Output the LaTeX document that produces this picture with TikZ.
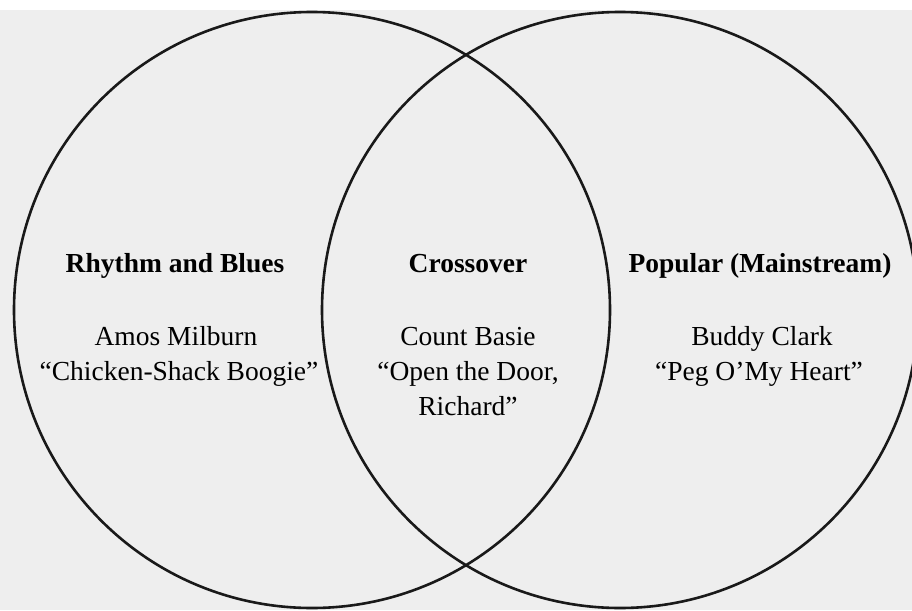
\documentclass[tikz,border=0pt]{standalone}
\usepackage{fontspec}
\setmainfont{Liberation Serif}
\usepackage{tikz}
\usetikzlibrary{positioning}
\definecolor{paper}{RGB}{238,238,238}

\tikzset{
  ring/.style={line width=2.6pt, black!90},
  head/.style={font=\fontsize{27.5}{34}\selectfont\bfseries, inner sep=0pt, anchor=base},
  entry/.style={font=\fontsize{27.5}{36}\selectfont, inner sep=0pt, anchor=base, align=center}
}

\begin{document}
\begin{tikzpicture}[x=1pt, y=-1pt]
        % Khung nen (giay)
        \useasboundingbox (0,0) rectangle (912,610);
        \fill[white] (0,0) rectangle (912,10);
        \fill[paper] (0,10) rectangle (912,610);

        % Hai vong tron giao nhau
        \draw[ring] (312,310) circle (298);
        \draw[ring] (620,310) circle (298);

        % Tieu de cac vung
        \node[head] (rb) at (175,272) {Rhythm and Blues};
        \node[head] (cross) at (468,272) {Crossover};
        \node[head] (pop) at (760,272) {Popular (Mainstream)};

        % Noi dung cac vung
        \node[entry] (amos) at (176,345) {Amos Milburn};
        \node[entry] (amossong) at (179,380) {“Chicken-Shack Boogie”};
        \node[entry] (basie) at (468,345) {Count Basie};
        \node[entry] (basiesong) at (468,380) {“Open the Door,};
        \node[entry] (basiesong2) at (468,415) {Richard”};
        \node[entry] (buddy) at (762,345) {Buddy Clark};
        \node[entry] (buddysong) at (759,380) {“Peg O’My Heart”};
    \end{tikzpicture}
\end{document}
